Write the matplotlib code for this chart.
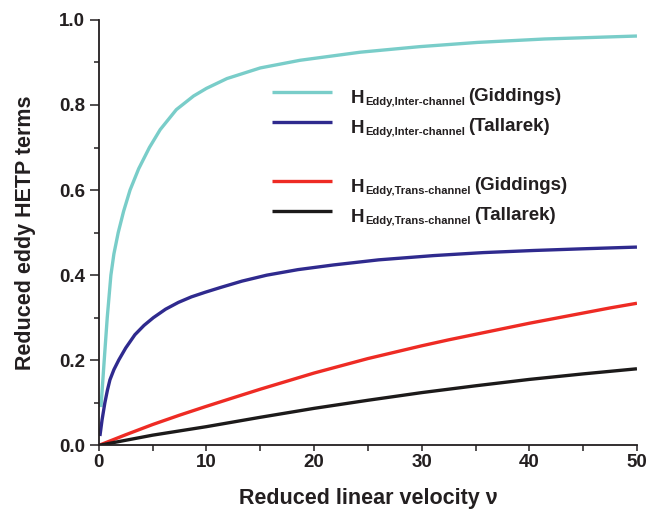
# Reduced eddy HETP terms vs reduced linear velocity
import matplotlib
matplotlib.use("Agg")
import matplotlib.pyplot as plt
from matplotlib.ticker import MultipleLocator
from matplotlib.lines import Line2D

plt.rcParams["font.family"] = ["Liberation Sans", "DejaVu Sans"]
plt.rcParams["font.weight"] = "bold"

TEXT = "#231F20"

# Inter-channel eddy term (Giddings)
inter_gid_nu = [0.2, 0.35, 0.5, 0.78, 1.12, 1.4, 1.8, 2.3, 2.9, 3.7, 4.7, 5.7,
                7.2, 8.8, 10, 11.9, 15, 18.7, 24.3, 29.8, 35.2, 41.4, 50]
inter_gid_h = [0.090, 0.145, 0.200, 0.300, 0.400, 0.450, 0.500, 0.550, 0.600,
               0.650, 0.700, 0.742, 0.789, 0.821, 0.839, 0.862, 0.887, 0.905,
               0.924, 0.937, 0.947, 0.955, 0.962]

# Inter-channel eddy term (Tallarek)
inter_tal_nu = [0.1, 0.3, 0.56, 0.8, 1.03, 1.4, 1.86, 2.5, 3.35, 4.2, 5.06,
                6.2, 7.39, 8.6, 9.9, 11.3, 13.3, 15.6, 18.5, 21.8, 26, 31.1,
                35.7, 40.4, 45, 50]
inter_tal_h = [0.022, 0.060, 0.100, 0.130, 0.154, 0.178, 0.201, 0.229, 0.260,
               0.282, 0.300, 0.320, 0.336, 0.349, 0.360, 0.371, 0.386, 0.400,
               0.413, 0.424, 0.436, 0.446, 0.453, 0.458, 0.462, 0.466]

# Trans-channel eddy term (Giddings)
trans_gid_nu = [0, 2.5, 5, 7.5, 9.9, 12.5, 15, 17.5, 20, 22.5, 25, 27.5, 30,
                32.5, 35, 37.5, 40, 42.5, 45, 47.5, 50]
trans_gid_h = [0, 0.025, 0.049, 0.071, 0.091, 0.112, 0.132, 0.151, 0.170,
               0.187, 0.204, 0.219, 0.234, 0.248, 0.261, 0.274, 0.287, 0.299,
               0.311, 0.323, 0.334]

# Trans-channel eddy term (Tallarek)
trans_tal_nu = [0, 5, 10, 15, 20, 25, 30, 35, 40, 45, 50]
trans_tal_h = [0, 0.024, 0.044, 0.066, 0.087, 0.106, 0.124, 0.140, 0.155,
               0.168, 0.180]

series = [
    (inter_gid_nu, inter_gid_h, "#79CDC9", "Eddy,Inter-channel", "(Giddings)"),
    (inter_tal_nu, inter_tal_h, "#2F2A8E", "Eddy,Inter-channel", "(Tallarek)"),
    (trans_gid_nu, trans_gid_h, "#EE2B24", "Eddy,Trans-channel", "(Giddings)"),
    (trans_tal_nu, trans_tal_h, "#1C1A1A", "Eddy,Trans-channel", "(Tallarek)"),
]

fig = plt.figure(figsize=(6.46, 5.09), dpi=100)
ax = fig.add_axes([0.153, 0.125, 0.833, 0.836])

for nu, h, color, _, _ in series:
    ax.plot(nu, h, color=color, lw=2.4, solid_capstyle="butt",
            solid_joinstyle="round")

ax.set_xlim(0, 50)
ax.set_ylim(0, 1.0)
ax.xaxis.set_major_locator(MultipleLocator(10))
ax.xaxis.set_minor_locator(MultipleLocator(5))
ax.yaxis.set_major_locator(MultipleLocator(0.2))
ax.yaxis.set_minor_locator(MultipleLocator(0.1))
ax.yaxis.set_major_formatter(lambda v, p: f"{v:.1f}")

for side in ["top", "right"]:
    ax.spines[side].set_visible(False)
for side in ["left", "bottom"]:
    ax.spines[side].set_linewidth(1.3)
    ax.spines[side].set_color(TEXT)

ax.tick_params(axis="both", which="both", direction="out", width=1.1,
               colors=TEXT, labelsize=13.5)
ax.tick_params(axis="x", which="both", length=4.5, pad=2)
ax.tick_params(axis="y", which="major", length=6.5, pad=3.5)
ax.tick_params(axis="y", which="minor", length=3.5)

ax.set_xlabel("Reduced linear velocity ν", fontsize=15.5, fontweight="bold",
              color=TEXT)
ax.set_ylabel("Reduced eddy HETP terms", fontsize=15.5, fontweight="bold",
              color=TEXT)
ax.xaxis.set_label_coords(0.5, -0.099)
ax.yaxis.set_label_coords(-0.117, 0.5)

# hand-built legend with subscripted labels
key_rows = [0.830, 0.7595, 0.622, 0.5516]
for row, (_, _, color, sub, tag) in zip(key_rows, series):
    ax.add_line(Line2D([0.322, 0.433], [row, row], transform=ax.transAxes,
                       color=color, lw=2.4, solid_capstyle="butt"))
    h_txt = ax.text(0.468, row - 0.026, "H", transform=ax.transAxes,
                    fontsize=13.5, color=TEXT, va="baseline")
    sub_txt = ax.annotate(sub, xy=(1, 0), xycoords=h_txt,
                          xytext=(0.5, 1.5), textcoords="offset points",
                          fontsize=8, color=TEXT, va="baseline")
    ax.annotate(tag, xy=(1, 0), xycoords=(sub_txt, h_txt),
                xytext=(2.5, 1.5), textcoords="offset points",
                fontsize=13.5, color=TEXT, va="bottom")

fig.savefig("out.png", dpi=100)
